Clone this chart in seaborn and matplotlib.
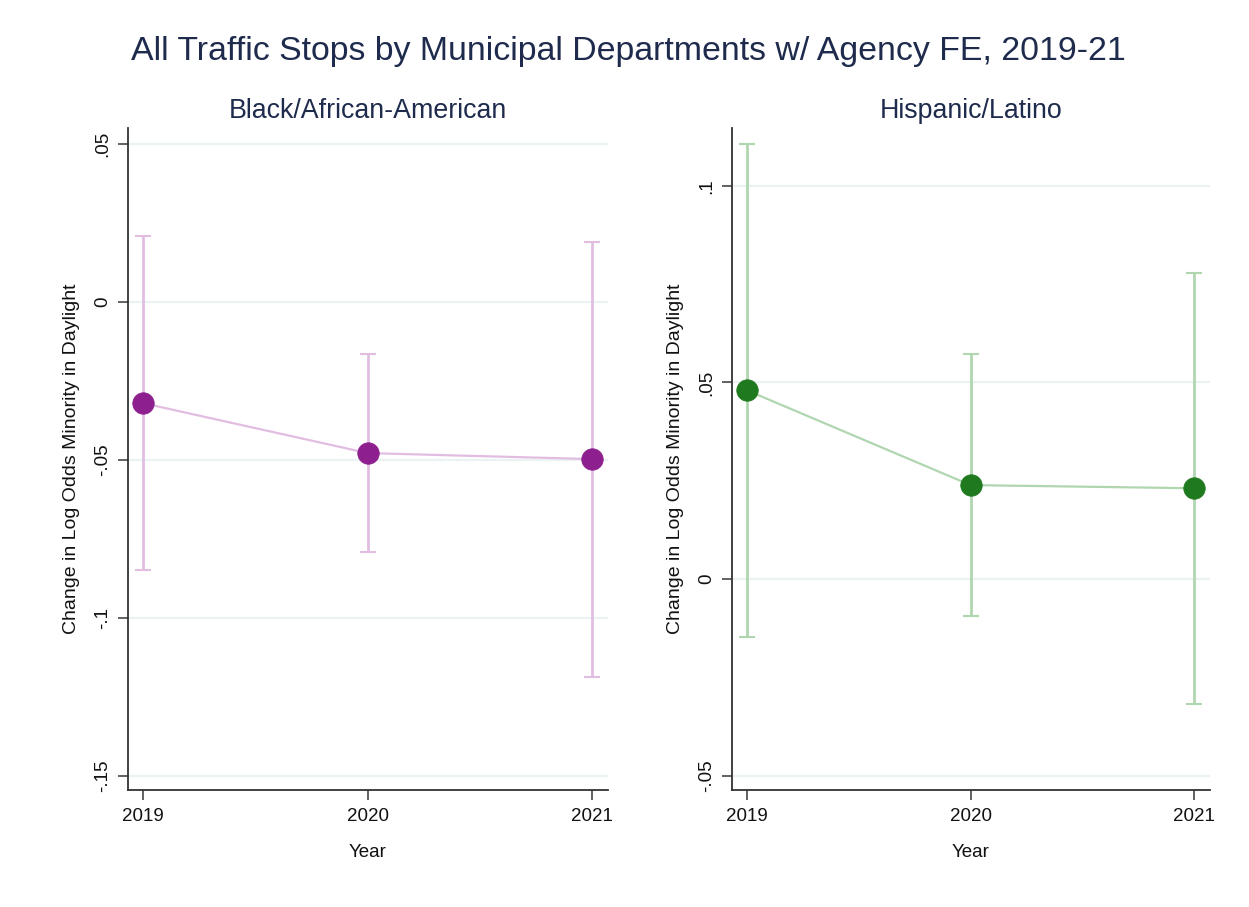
import numpy as np
import pandas as pd
import seaborn as sns
import matplotlib
matplotlib.use("Agg")
import matplotlib.pyplot as plt

years = [2019, 2020, 2021]

black_est = [-0.032, -0.0478, -0.0497]
black_lo = [-0.0848, -0.0791, -0.1187]
black_hi = [0.0209, -0.0165, 0.0190]

hisp_est = [0.0480, 0.0239, 0.0231]
hisp_lo = [-0.0147, -0.0094, -0.0318]
hisp_hi = [0.1106, 0.0572, 0.0778]

black_ticks = [0.05, 0, -0.05, -0.1, -0.15]
black_ticklabels = [".05", "0", "-.05", "-.1", "-.15"]
hisp_ticks = [0.1, 0.05, 0, -0.05]
hisp_ticklabels = [".1", ".05", "0", "-.05"]

sns.set_style("white")
plt.rcParams["font.family"] = ["Liberation Sans", "DejaVu Sans"]

fig = plt.figure(figsize=(12.49, 9.07), dpi=100)
ax1 = fig.add_axes([0.1025, 0.129, 0.3843, 0.730])
ax2 = fig.add_axes([0.586, 0.129, 0.3827, 0.730])

panels = [
    (ax1, "Black/African-American", black_est, black_lo, black_hi,
     "#8e1f8e", "#e2bde2", black_ticks, black_ticklabels, (-0.1544, 0.0551)),
    (ax2, "Hispanic/Latino", hisp_est, hisp_lo, hisp_hi,
     "#1f7a1f", "#b0d6b0", hisp_ticks, hisp_ticklabels, (-0.0536, 0.1147)),
]

for ax, name, est, lo, hi, dark, light, ticks, labels, ylim in panels:
    df = pd.DataFrame({"Year": years, "est": est, "lo": lo, "hi": hi})
    for t in ticks:
        ax.axhline(t, color="#eaf2f3", lw=1.6, zorder=0)
    ax.errorbar(df["Year"], df["est"],
                yerr=[df["est"] - df["lo"], df["hi"] - df["est"]],
                fmt="none", ecolor=light, elinewidth=2, capsize=6,
                capthick=1.5, zorder=2)
    sns.lineplot(data=df, x="Year", y="est", ax=ax, color=light, lw=1.6,
                 zorder=3)
    sns.scatterplot(data=df, x="Year", y="est", ax=ax, color=dark, s=240,
                    edgecolor=dark, linewidth=0.5, zorder=4)
    ax.set_xlim(2018.933, 2021.07)
    ax.set_ylim(*ylim)
    ax.set_xticks(years)
    ax.set_xticklabels([str(y) for y in years], fontsize=13.5)
    ax.set_yticks(ticks)
    ax.set_yticklabels(labels, fontsize=13.5, rotation=90, va="center")
    ax.tick_params(axis="both", direction="out", length=7, width=1.3,
                   color="#555555", pad=5, labelcolor="#111111",
                   bottom=True, left=True)
    ax.tick_params(axis="x", pad=6)
    for side in ["top", "right"]:
        ax.spines[side].set_visible(False)
    for side in ["left", "bottom"]:
        ax.spines[side].set_color("#333333")
        ax.spines[side].set_linewidth(1.3)
    ax.set_title(name, fontsize=19.3, color="#1e2b4d", pad=7)
    ax.set_xlabel("Year", fontsize=13.5, color="#111111", labelpad=14)
    ax.set_ylabel("Change in Log Odds Minority in Daylight", fontsize=14,
                  color="#111111", labelpad=10)

fig.text(0.503, 0.943,
         "All Traffic Stops by Municipal Departments w/ Agency FE, 2019-21",
         ha="center", va="center", fontsize=24.4, color="#1e2b4d")

fig.savefig("out.png", dpi=100, facecolor="white")
